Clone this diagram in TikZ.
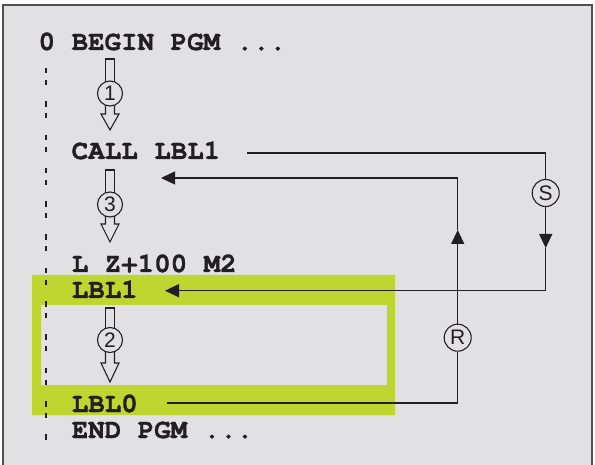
\documentclass[tikz,border=0pt]{standalone}
\usepackage{fontspec}
\setmainfont{Liberation Sans}
\setmonofont{texgyrecursor}[Extension=.otf,UprightFont=*-regular,BoldFont=*-bold,BoldFeatures={FakeBold=1.2}]
\usetikzlibrary{arrows.meta,calc}
\definecolor{bgc}{RGB}{225,225,227}
\definecolor{hl}{RGB}{190,214,47}
\definecolor{ink}{RGB}{35,31,32}
\definecolor{frm}{RGB}{80,80,82}
\newcommand\flowarrow[7]{%
  \draw[flowline] (#3-4.5,#5) -- (#3-4.5,#4) -- (#3+4.5,#4) -- (#3+4.5,#5);
  \draw[flowline] (#3-4.5,#5) -- (#3-4.5,#6) -- (#3-9,#6) -- (#3,#7) -- (#3+9,#6) -- (#3+4.5,#6) -- (#3+4.5,#5);
  \node[flowcirc] (#1) at (#3,#5) {#2};
}
\begin{document}
\begin{tikzpicture}[x=1pt,y=-1pt,
  code/.style={font=\fontsize{27.5}{30}\selectfont\ttfamily\bfseries,text=ink,inner sep=0pt,anchor=base west},
  flowline/.style={draw=ink,line width=1.1pt,line join=miter},
  flowcirc/.style={circle,draw=ink,line width=1.1pt,fill=bgc,minimum size=25pt,inner sep=0pt,font=\fontsize{21}{21}\selectfont,text=ink},
  jumpcirc/.style={flowcirc,minimum size=27pt},
  conn/.style={draw=ink,line width=1.3pt},
  tip/.style={-{Triangle[length=14pt,width=13pt]}}]
\useasboundingbox (0,0) rectangle (595,465);
\fill[white] (0,0) rectangle (595,465);
\begin{scope}
\clip (0,0) rectangle (595,465);
\draw[frm,fill=bgc,line width=1.6pt] (3,5) rectangle (592,475);
\end{scope}
% highlight
\fill[hl,even odd rule] (32,275) rectangle (395,415) (41,305) rectangle (387,385);
% dashed guide
\draw[ink,line width=1.2pt,dash pattern=on 5.5pt off 6.5pt on 5pt off 16.3pt] (46,68) -- (46,442);
% code lines
\node[code] (begin) at (38.4,50) {0 BEGIN PGM ...};
\node[code] (call) at (71.5,159) {CALL LBL1};
\node[code] (lz) at (71.5,272) {L Z+100 M2};
\node[code] (lbl1) at (71.5,298) {LBL1};
\node[code] (lbl0) at (71.5,412) {LBL0};
\node[code] (end) at (71.5,438) {END PGM ...};
% flow arrows
\flowarrow{c1}{1}{110}{59}{93.5}{114}{130}
\flowarrow{c3}{3}{110}{170}{204.5}{224}{242}
\flowarrow{c2}{2}{110}{308}{340}{363}{382}
% jump connectors
\node[jumpcirc] (S) at (545.7,193) {S};
\node[jumpcirc] (R) at (457.7,337.7) {R};
\coordinate (sstart) at (247,153);
\coordinate (sarr) at (545.7,248);
\coordinate (lbl1in) at (165,290.7);
\coordinate (rstart) at (167,403);
\coordinate (rarr) at (457.7,230);
\coordinate (callin) at (161,178);
\draw[conn] (sstart) -| (S.north);
\draw[conn,tip] (S.south) -- (sarr);
\draw[conn,tip] (sarr) |- (lbl1in);
\draw[conn] (rstart) -| (R.south);
\draw[conn,tip] (R.north) -- (rarr);
\draw[conn,tip] (rarr) |- (callin);
\end{tikzpicture}
\end{document}
